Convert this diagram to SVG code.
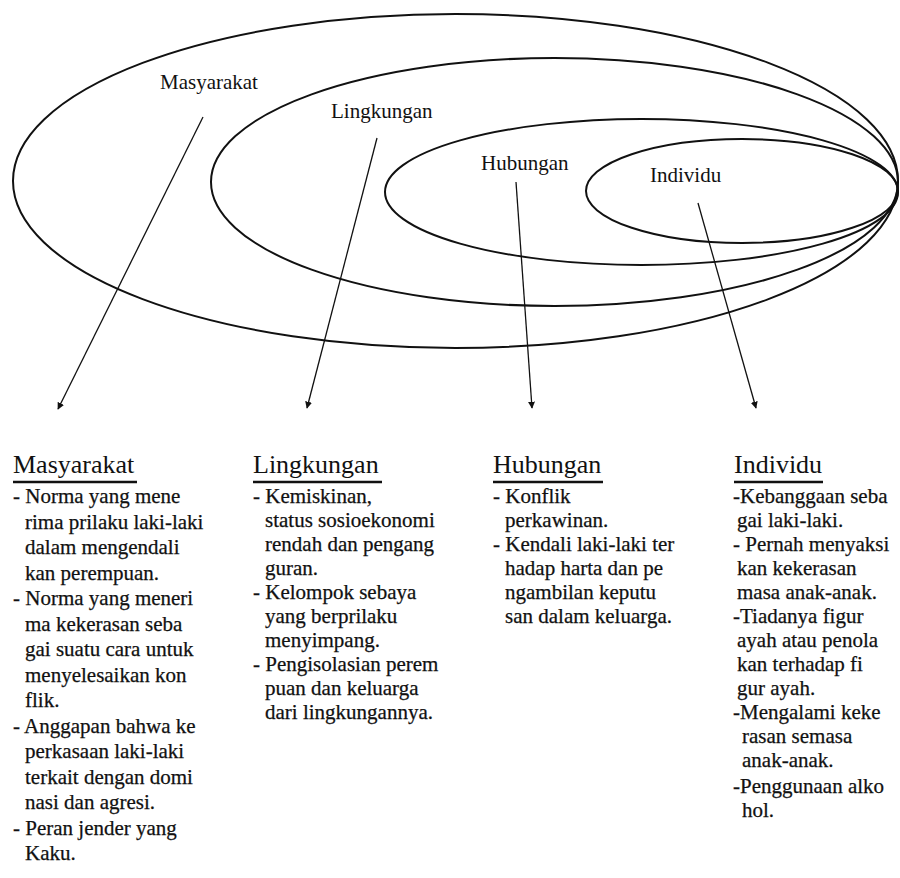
<svg xmlns="http://www.w3.org/2000/svg" width="900" height="878" viewBox="0 0 900 878">
<style>
.ring{fill:none;stroke:#111;stroke-width:2}
.lbl{font-family:"Liberation Serif","Times New Roman",serif;font-size:21px;fill:#111}
.hd{font-family:"Liberation Serif","Times New Roman",serif;font-size:26px;fill:#111}
.ul{stroke:#111;stroke-width:2.4}
.bd{font-family:"Liberation Serif","Times New Roman",serif;font-size:21px;fill:#111;stroke:#111;stroke-width:0.25}
.arr{stroke:#111;stroke-width:1.3;fill:none;marker-end:url(#ah)}
</style>
<defs>
<marker id="ah" viewBox="0 0 10 10" refX="9" refY="5" markerWidth="7" markerHeight="7" markerUnits="userSpaceOnUse" orient="auto">
<path d="M0,0 L10,5 L0,10 z" fill="#111"/>
</marker>
</defs>
<rect width="900" height="878" fill="#fff"/>
<g id="rings">
<g id="ring-masyarakat"><ellipse class="ring" cx="455.5" cy="181" rx="442.5" ry="167"/><text class="lbl" x="160" y="89">Masyarakat</text></g>
<g id="ring-lingkungan"><ellipse class="ring" cx="554.5" cy="182" rx="343.5" ry="124"/><text class="lbl" x="331" y="118">Lingkungan</text></g>
<g id="ring-hubungan"><ellipse class="ring" cx="641.5" cy="192" rx="256.5" ry="73"/><text class="lbl" x="481" y="170">Hubungan</text></g>
<g id="ring-individu"><ellipse class="ring" cx="742" cy="191" rx="156" ry="52"/><text class="lbl" x="650" y="182">Individu</text></g>
</g>
<g id="connectors">
<line class="arr" x1="203" y1="117" x2="58" y2="409"/>
<line class="arr" x1="377" y1="138" x2="307" y2="408"/>
<line class="arr" x1="516" y1="182" x2="532" y2="408"/>
<line class="arr" x1="698" y1="203" x2="756" y2="408"/>
</g>
<g id="col-masyarakat">
<text class="hd" x="13" y="473">Masyarakat</text>
<line class="ul" x1="13" y1="482" x2="137" y2="482"/>
<text class="bd" x="13" y="503">- Norma yang mene</text>
<text class="bd" x="25" y="528.5">rima prilaku laki-laki</text>
<text class="bd" x="25" y="554">dalam mengendali</text>
<text class="bd" x="25" y="579.5">kan perempuan.</text>
<text class="bd" x="13" y="605">- Norma yang meneri</text>
<text class="bd" x="25" y="630.5">ma kekerasan seba</text>
<text class="bd" x="25" y="656">gai suatu cara untuk</text>
<text class="bd" x="25" y="681.5">menyelesaikan kon</text>
<text class="bd" x="25" y="707">flik.</text>
<text class="bd" x="13" y="732.5">- Anggapan bahwa ke</text>
<text class="bd" x="25" y="758">perkasaan laki-laki</text>
<text class="bd" x="25" y="783.5">terkait dengan domi</text>
<text class="bd" x="25" y="809">nasi dan agresi.</text>
<text class="bd" x="13" y="834.5">- Peran jender yang</text>
<text class="bd" x="25" y="860">Kaku.</text>
</g>
<g id="col-lingkungan">
<text class="hd" x="253" y="473">Lingkungan</text>
<line class="ul" x1="253" y1="482" x2="382" y2="482"/>
<text class="bd" x="253" y="503">- Kemiskinan,</text>
<text class="bd" x="265" y="527">status sosioekonomi</text>
<text class="bd" x="265" y="551">rendah dan pengang</text>
<text class="bd" x="265" y="575">guran.</text>
<text class="bd" x="253" y="599">- Kelompok sebaya</text>
<text class="bd" x="265" y="623">yang berprilaku</text>
<text class="bd" x="265" y="647">menyimpang.</text>
<text class="bd" x="253" y="671">- Pengisolasian perem</text>
<text class="bd" x="265" y="695">puan dan keluarga</text>
<text class="bd" x="265" y="719">dari lingkungannya.</text>
</g>
<g id="col-hubungan">
<text class="hd" x="493" y="473">Hubungan</text>
<line class="ul" x1="493" y1="482" x2="603" y2="482"/>
<text class="bd" x="493" y="503">- Konflik</text>
<text class="bd" x="505" y="527">perkawinan.</text>
<text class="bd" x="493" y="551">- Kendali laki-laki ter</text>
<text class="bd" x="505" y="575">hadap harta dan pe</text>
<text class="bd" x="505" y="599">ngambilan keputu</text>
<text class="bd" x="505" y="623">san dalam keluarga.</text>
</g>
<g id="col-individu">
<text class="hd" x="734" y="473">Individu</text>
<line class="ul" x1="734" y1="482" x2="823" y2="482"/>
<text class="bd" x="733" y="503">-Kebanggaan seba</text>
<text class="bd" x="737" y="527">gai laki-laki.</text>
<text class="bd" x="733" y="551">- Pernah menyaksi</text>
<text class="bd" x="737" y="575">kan kekerasan</text>
<text class="bd" x="737" y="599">masa anak-anak.</text>
<text class="bd" x="733" y="623">-Tiadanya figur</text>
<text class="bd" x="737" y="647">ayah atau penola</text>
<text class="bd" x="737" y="671">kan terhadap fi</text>
<text class="bd" x="737" y="695">gur ayah.</text>
<text class="bd" x="733" y="719">-Mengalami keke</text>
<text class="bd" x="742" y="743">rasan semasa</text>
<text class="bd" x="742" y="767">anak-anak.</text>
<text class="bd" x="733" y="793">-Penggunaan alko</text>
<text class="bd" x="742" y="817">hol.</text>
</g>
</svg>
